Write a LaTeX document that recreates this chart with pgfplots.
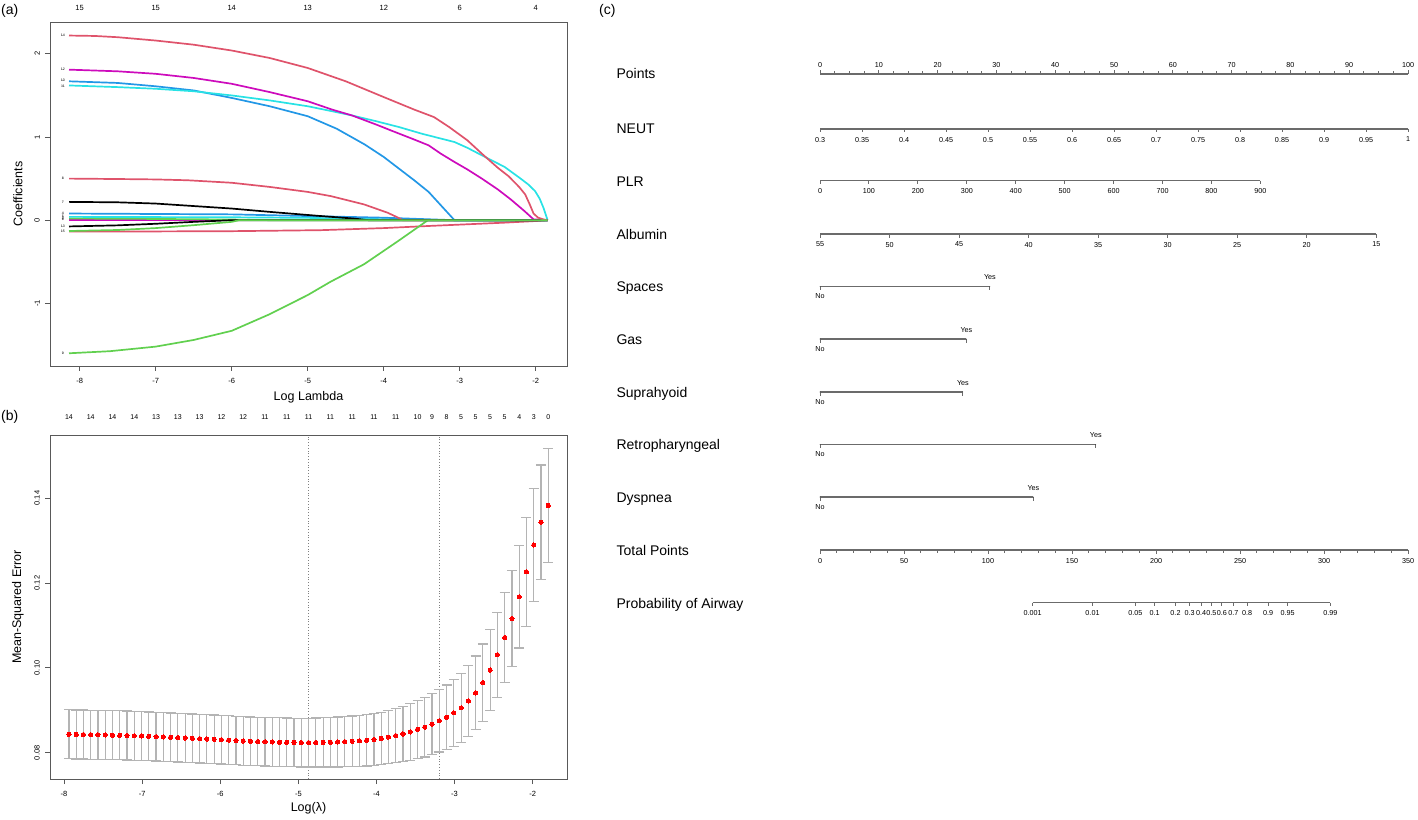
\documentclass[border=0pt]{standalone}
\usepackage{fontspec}
\setmainfont{Liberation Sans}
\usepackage{pgfplots}
\pgfplotsset{compat=1.18}
\usepackage{pgfplotstable}

\definecolor{Rred}{HTML}{DF536B}
\definecolor{Rgreen}{HTML}{61D04F}
\definecolor{Rblue}{HTML}{2297E6}
\definecolor{Rcyan}{HTML}{28E2E5}
\definecolor{Rmag}{HTML}{CD0BBC}
\definecolor{Rgrey}{HTML}{B4B4B4}
\definecolor{axgray}{gray}{0.35}

\newcommand{\fs}[1]{\fontsize{#1}{#1}\selectfont}

\pgfdeclareplotmark{tdown}{\pgfpathmoveto{\pgfqpoint{0pt}{0pt}}\pgfpathlineto{\pgfqpoint{0pt}{-\pgfplotmarksize}}\pgfusepathqstroke}
\pgfdeclareplotmark{tup}{\pgfpathmoveto{\pgfqpoint{0pt}{0pt}}\pgfpathlineto{\pgfqpoint{0pt}{\pgfplotmarksize}}\pgfusepathqstroke}
\pgfdeclareplotmark{cap}{\pgfpathmoveto{\pgfqpoint{-\pgfplotmarksize}{0pt}}\pgfpathlineto{\pgfqpoint{\pgfplotmarksize}{0pt}}\pgfusepathqstroke}

\pgfplotsset{
  textonly/.style={only marks, mark=*, mark size=0.01pt, mark options={draw=none, fill=none}, nodes near coords, point meta=explicit symbolic},
  nomo/.style={draw=black!58, line width=1.3pt, mark options={solid, draw=black!58, line width=1pt}, mark size=3.5pt},
  coef/.style={line width=1.7pt},
}

% cross-validated MSE (mean) and its standard error, one row per lambda
\pgfplotstableread{
L mse lo hi
-1.800 0.13827 0.12480 0.15174
-1.893 0.13431 0.12080 0.14782
-1.986 0.12895 0.11556 0.14234
-2.079 0.12264 0.10984 0.13544
-2.172 0.11673 0.10467 0.12879
-2.265 0.11161 0.10030 0.12292
-2.358 0.10715 0.09655 0.11775
-2.451 0.10310 0.09308 0.11312
-2.544 0.09948 0.08996 0.10900
-2.637 0.09653 0.08745 0.10561
-2.730 0.09410 0.08540 0.10280
-2.823 0.09219 0.08385 0.10053
-2.916 0.09058 0.08251 0.09865
-3.009 0.08940 0.08156 0.09724
-3.102 0.08839 0.08080 0.09598
-3.195 0.08753 0.08016 0.09490
-3.288 0.08674 0.07953 0.09395
-3.381 0.08604 0.07899 0.09309
-3.474 0.08549 0.07859 0.09239
-3.567 0.08491 0.07821 0.09161
-3.660 0.08443 0.07789 0.09097
-3.753 0.08404 0.07765 0.09043
-3.846 0.08369 0.07742 0.08996
-3.939 0.08337 0.07718 0.08956
-4.032 0.08312 0.07700 0.08924
-4.125 0.08295 0.07689 0.08901
-4.218 0.08281 0.07680 0.08882
-4.311 0.08270 0.07674 0.08866
-4.404 0.08261 0.07670 0.08852
-4.497 0.08254 0.07667 0.08841
-4.590 0.08249 0.07666 0.08832
-4.683 0.08245 0.07665 0.08825
-4.776 0.08242 0.07665 0.08819
-4.869 0.08240 0.07665 0.08815
-4.962 0.08241 0.07667 0.08815
-5.055 0.08243 0.07670 0.08816
-5.148 0.08246 0.07673 0.08819
-5.241 0.08250 0.07678 0.08822
-5.334 0.08254 0.07682 0.08826
-5.427 0.08259 0.07687 0.08831
-5.520 0.08264 0.07692 0.08836
-5.613 0.08270 0.07698 0.08842
-5.706 0.08277 0.07705 0.08849
-5.799 0.08287 0.07715 0.08859
-5.892 0.08298 0.07726 0.08870
-5.985 0.08308 0.07736 0.08880
-6.078 0.08317 0.07744 0.08890
-6.171 0.08325 0.07752 0.08898
-6.264 0.08333 0.07760 0.08906
-6.357 0.08341 0.07767 0.08915
-6.450 0.08349 0.07775 0.08923
-6.543 0.08357 0.07783 0.08931
-6.636 0.08364 0.07789 0.08939
-6.729 0.08372 0.07797 0.08947
-6.822 0.08379 0.07804 0.08954
-6.915 0.08386 0.07810 0.08962
-7.008 0.08393 0.07817 0.08969
-7.101 0.08399 0.07823 0.08975
-7.194 0.08405 0.07828 0.08982
-7.287 0.08410 0.07833 0.08987
-7.380 0.08415 0.07838 0.08992
-7.473 0.08419 0.07841 0.08997
-7.566 0.08423 0.07845 0.09001
-7.659 0.08427 0.07849 0.09005
-7.752 0.08430 0.07852 0.09008
-7.845 0.08432 0.07854 0.09010
-7.938 0.08434 0.07856 0.09012
}\cvdata

\begin{document}
\begin{tikzpicture}
\path[use as bounding box] (0pt,0pt) rectangle (1418pt,819pt);
\node[anchor=west, font=\fs{14}, inner sep=0pt] at (1pt,808pt) {(a)};
\node[anchor=west, font=\fs{14}, inner sep=0pt] at (1pt,402pt) {(b)};
\node[anchor=west, font=\fs{14}, inner sep=0pt] at (599pt,808pt) {(c)};

% ---------------- panel (a)
\begin{axis}[at={(50pt,453pt)}, anchor=south west, width=517pt, height=344pt, scale only axis,
  xmin=-8.39, xmax=-1.59, ymin=-1.753, ymax=2.383, clip=false,
  axis line style={axgray, line width=0.9pt},
  tick align=outside, major tick length=5pt, tick style={axgray, line width=0.8pt},
  xtick={-8,-7,-6,-5,-4,-3,-2}, xticklabels={-8,-7,-6,-5,-4,-3,-2},
  ytick={-1,0,1,2}, yticklabels={-1,0,1,2},
  xtick pos=lower, ytick pos=left,
  xticklabel style={font=\fs{7.5}, inner sep=0pt, anchor=north}, xticklabel shift=7pt,
  yticklabel style={font=\fs{7.5}, inner sep=0pt, rotate=90, anchor=south}, yticklabel shift=5pt,
  xlabel={Log Lambda}, ylabel={Coefficients},
  every axis x label/.style={at={(axis description cs:0.5,-0.090)}, anchor=center, font=\fs{12.5}},
  every axis y label/.style={at={(axis description cs:-0.062,0.5)}, rotate=90, anchor=center, font=\fs{12.5}},
]
\addplot[coef, Rmag] coordinates {(-8.14,0.0) (-1.845,0)};
\addplot[coef, Rgreen] coordinates {(-8.14,0.02) (-7,0.015) (-6,0.008) (-5.5,0) (-1.845,0)};
\addplot[coef, Rcyan] coordinates {(-8.14,0.04) (-6,0.035) (-5,0.028) (-4,0.012) (-3.5,0) (-1.845,0)};
\addplot[coef, Rblue] coordinates {(-8.14,0.08) (-6,0.07) (-5,0.05) (-4,0.03) (-3.07,0) (-1.845,0)};
\addplot[coef, Rred] coordinates {(-8.14,-0.135) (-7,-0.135) (-6,-0.132) (-4.83,-0.12) (-4,-0.095) (-3.42,-0.07) (-2.42,-0.03) (-2.0,-0.01) (-1.845,0)};
\addplot[coef, black] coordinates {(-8.14,0.22) (-7.5,0.215) (-7.0,0.20) (-6.5,0.17) (-6.0,0.14) (-5.5,0.10) (-4.83,0.05) (-4.4,0.02) (-4.2,0) (-1.845,0)};
\addplot[coef, Rred] coordinates {(-8.14,0.50) (-7.5,0.495) (-7.0,0.49) (-6.58,0.48) (-6.0,0.45) (-5.5,0.40) (-5.0,0.34) (-4.70,0.29) (-4.26,0.19) (-3.95,0.09) (-3.81,0.03) (-3.75,0) (-1.845,0)};
\addplot[coef, Rgreen] coordinates {(-8.14,-1.60) (-7.6,-1.575) (-7.0,-1.52) (-6.5,-1.44) (-6.0,-1.33) (-5.5,-1.13) (-5.0,-0.90) (-4.7,-0.74) (-4.26,-0.53) (-3.81,-0.25) (-3.42,0.0) (-1.845,0)};
\addplot[coef, Rblue] coordinates {(-8.14,1.67) (-7.5,1.65) (-7.0,1.61) (-6.5,1.56) (-6.0,1.47) (-5.5,1.37) (-5.0,1.25) (-4.62,1.10) (-4.25,0.91) (-4.0,0.76) (-3.80,0.62) (-3.6,0.48) (-3.41,0.34) (-3.25,0.18) (-3.14,0.07) (-3.07,0.0) (-1.845,0)};
\addplot[coef, Rcyan] coordinates {(-8.14,1.62) (-7.5,1.60) (-7.0,1.58) (-6.5,1.55) (-6.0,1.50) (-5.5,1.44) (-5.0,1.37) (-4.68,1.31) (-4.42,1.26) (-4.1,1.19) (-3.8,1.12) (-3.5,1.04) (-3.2,0.97) (-3.07,0.94) (-2.9,0.87) (-2.71,0.78) (-2.41,0.64) (-2.2,0.50) (-2.1,0.43) (-2.01,0.35) (-1.95,0.26) (-1.9,0.15) (-1.845,0)};
\addplot[coef, Rmag] coordinates {(-8.14,1.81) (-7.5,1.79) (-7.0,1.76) (-6.5,1.71) (-6.0,1.64) (-5.5,1.54) (-5.0,1.43) (-4.68,1.33) (-4.42,1.26) (-4.1,1.15) (-3.88,1.07) (-3.6,0.97) (-3.41,0.90) (-3.25,0.80) (-3.07,0.70) (-2.9,0.61) (-2.71,0.50) (-2.5,0.37) (-2.33,0.25) (-2.15,0.11) (-2.03,0.01) (-1.845,0)};
\addplot[coef, black] coordinates {(-8.14,-0.075) (-7.5,-0.062) (-7.0,-0.043) (-6.5,-0.02) (-6.0,0) (-1.845,0)};
\addplot[coef, Rred] coordinates {(-8.14,2.22) (-7.8,2.215) (-7.5,2.20) (-7.0,2.16) (-6.5,2.11) (-6.0,2.04) (-5.5,1.95) (-5.0,1.83) (-4.5,1.67) (-4.0,1.48) (-3.6,1.33) (-3.34,1.24) (-3.14,1.12) (-2.9,0.96) (-2.71,0.80) (-2.5,0.63) (-2.36,0.53) (-2.22,0.40) (-2.14,0.31) (-2.08,0.19) (-2.03,0.08) (-1.97,0.03) (-1.90,0.01) (-1.845,0)};
\addplot[coef, Rgreen] coordinates {(-8.14,-0.13) (-7.5,-0.118) (-7.0,-0.095) (-6.5,-0.06) (-6.0,-0.02) (-5.9,0) (-1.845,0)};
% curve labels
\addplot[textonly, nodes near coords style={anchor=center, inner sep=0pt, font=\fs{3.5}}] table[x=L, y=c, meta=lab] {
L c lab
-8.22 2.22 14
-8.22 1.81 12
-8.22 1.68 10
-8.22 1.615 11
-8.22 0.50 8
-8.22 0.22 7
-8.22 0.085 4
-8.22 0.045 5
-8.22 0.025 3
-8.22 0.005 6
-8.22 -0.075 13
-8.22 -0.13 15
-8.22 -1.60 9
};
\end{axis}
% top labels (a)
\begin{axis}[at={(50pt,453pt)}, anchor=south west, width=517pt, height=344pt, scale only axis,
  xmin=-8.39, xmax=-1.59, ymin=0, ymax=1, hide y axis, axis line style={draw=none},
  xtick={-8,-7,-6,-5,-4,-3,-2}, xticklabels={15,15,14,13,12,6,4},
  xticklabel pos=upper, xtick style={draw=none}, major tick length=0pt,
  xticklabel style={font=\fs{7.5}, inner sep=0pt, anchor=south}, xticklabel shift=11pt]
\addplot[draw=none] coordinates {(-5,0.5)};
\end{axis}

% ---------------- panel (b)
\begin{axis}[at={(50pt,40pt)}, anchor=south west, width=517pt, height=344pt, scale only axis,
  xmin=-8.18, xmax=-1.56, ymin=0.07382, ymax=0.15487, clip=false,
  axis line style={axgray, line width=0.9pt},
  tick align=outside, major tick length=5pt, tick style={axgray, line width=0.8pt},
  xtick={-8,-7,-6,-5,-4,-3,-2}, xticklabels={-8,-7,-6,-5,-4,-3,-2},
  ytick={0.08,0.10,0.12,0.14}, yticklabels={0.08,0.10,0.12,0.14},
  xtick pos=lower, ytick pos=left,
  xticklabel style={font=\fs{7.5}, inner sep=0pt, anchor=north}, xticklabel shift=7pt,
  yticklabel style={font=\fs{7.5}, inner sep=0pt, rotate=90, anchor=south}, yticklabel shift=5pt,
  xlabel={Log(λ)}, ylabel={Mean-Squared Error},
  every axis x label/.style={at={(axis description cs:0.5,-0.086)}, anchor=center, font=\fs{12.5}},
  every axis y label/.style={at={(axis description cs:-0.062,0.5)}, rotate=90, anchor=center, font=\fs{12.5}},
]
\addplot[black!50, dotted, line width=0.8pt] coordinates {(-4.869,0.07382) (-4.869,0.15487)};
\addplot[black!50, dotted, line width=0.8pt] coordinates {(-3.195,0.07382) (-3.195,0.15487)};
% error bars: vertical segment from lo to hi, caps at both ends
\addplot[Rgrey, line width=1.2pt, ycomb, mark=none, draw=none,
  error bars/.cd, y dir=both, y explicit, error mark=none,
  error bar style={draw=Rgrey, line width=1.2pt}] table[x=L, y=mse, y error expr={\thisrow{hi}-\thisrow{mse}}] {\cvdata};
\addplot[only marks, mark=cap, mark size=5pt, mark options={draw=Rgrey, line width=1.2pt}] table[x=L, y=hi] {\cvdata};
\addplot[only marks, mark=cap, mark size=5pt, mark options={draw=Rgrey, line width=1.2pt}] table[x=L, y=lo] {\cvdata};
\addplot[only marks, mark=*, mark size=2.1pt, mark options={draw=red, fill=red, line width=0pt}] table[x=L, y=mse] {\cvdata};
\end{axis}
% top labels (b)
\begin{axis}[at={(50pt,40pt)}, anchor=south west, width=517pt, height=344pt, scale only axis,
  xmin=-8.18, xmax=-1.56, ymin=0, ymax=1, hide y axis, axis line style={draw=none},
  xtick={-7.938,-7.659,-7.380,-7.101,-6.822,-6.543,-6.264,-5.985,-5.706,-5.427,-5.148,-4.869,-4.590,-4.311,-4.032,-3.753,-3.474,-3.288,-3.102,-2.916,-2.730,-2.544,-2.358,-2.172,-1.986,-1.800},
  xticklabels={14,14,14,14,13,13,13,12,12,11,11,11,11,11,11,11,10,9,8,5,5,5,5,4,3,0},
  xticklabel pos=upper, xtick style={draw=none}, major tick length=0pt,
  xticklabel style={font=\fs{7}, inner sep=0pt, anchor=south}, xticklabel shift=15pt]
\addplot[draw=none] coordinates {(-5,0.5)};
\end{axis}

% ---------------- panel (c) nomogram
\begin{axis}[at={(820pt,0pt)}, anchor=south west, width=588pt, height=819pt, scale only axis,
  xmin=0, xmax=100, ymin=0, ymax=819, y dir=reverse, hide axis, clip=false,
  every node near coord/.append style={inner sep=0pt, font=\fs{7.2}},
]
% row labels
\node[anchor=base west, font=\fs{14}] at (axis cs:-35.2,79) {Points};
\node[anchor=base west, font=\fs{14}] at (axis cs:-35.2,134) {NEUT};
\node[anchor=base west, font=\fs{14}] at (axis cs:-35.2,186) {PLR};
\node[anchor=base west, font=\fs{14}] at (axis cs:-35.2,239) {Albumin};
\node[anchor=base west, font=\fs{14}] at (axis cs:-35.2,291.5) {Spaces};
\node[anchor=base west, font=\fs{14}] at (axis cs:-35.2,344) {Gas};
\node[anchor=base west, font=\fs{14}] at (axis cs:-35.2,397) {Suprahyoid};
\node[anchor=base west, font=\fs{14}] at (axis cs:-35.2,449.5) {Retropharyngeal};
\node[anchor=base west, font=\fs{14}] at (axis cs:-35.2,502) {Dyspnea};
\node[anchor=base west, font=\fs{14}] at (axis cs:-35.2,555) {Total Points};
\node[anchor=base west, font=\fs{14}] at (axis cs:-35.2,608) {Probability of Airway};
% Points
\addplot[nomo, mark=tup, mark size=3pt] table[x=v, y expr=74] {
v
0
2.5
5
7.5
10
12.5
15
17.5
20
22.5
25
27.5
30
32.5
35
37.5
40
42.5
45
47.5
50
52.5
55
57.5
60
62.5
65
67.5
70
72.5
75
77.5
80
82.5
85
87.5
90
92.5
95
97.5
100
};
\addplot[nomo, only marks, mark=tup, mark size=3.5pt, nodes near coords, point meta=explicit symbolic, nodes near coords style={anchor=south, yshift=5.8pt}] table[x=v, y expr=74, meta=v] {
v
0
10
20
30
40
50
60
70
80
90
100
};
% NEUT
\addplot[nomo, mark=tdown, nodes near coords, point meta=explicit symbolic, nodes near coords style={anchor=north, yshift=-7.5pt}] table[x expr={(\thisrow{v}-0.3)/0.7*100}, y expr=129, meta=v] {
v
0.3
0.35
0.4
0.45
0.5
0.55
0.6
0.65
0.7
0.75
0.8
0.85
0.9
0.95
1
};
% PLR
\addplot[nomo, mark=tdown, nodes near coords, point meta=explicit symbolic, nodes near coords style={anchor=north, yshift=-7.5pt}] table[x expr={\thisrow{v}*74.9/900}, y expr=180.7, meta=v] {
v
0
100
200
300
400
500
600
700
800
900
};
% Albumin
\addplot[nomo, mark=tdown, nodes near coords, point meta=explicit symbolic, nodes near coords style={anchor=north, yshift=-7.5pt}] table[x expr={(55-\thisrow{v})*94.6/40}, y expr=234, meta=v] {
v
55
50
45
40
35
30
25
20
15
};
% binary rows: Spaces, Gas, Suprahyoid, Retropharyngeal, Dyspnea
\addplot[nomo, mark=tdown] coordinates {(0,286.7) (28.9,286.7)};
\addplot[nomo, mark=tdown] coordinates {(0,339) (24.9,339)};
\addplot[nomo, mark=tdown] coordinates {(0,392) (24.3,392)};
\addplot[nomo, mark=tdown] coordinates {(0,444.7) (46.9,444.7)};
\addplot[nomo, mark=tdown] coordinates {(0,497) (36.3,497)};
\addplot[textonly, nodes near coords style={anchor=south, yshift=6.7pt}] table[x=x, y=y, meta=lab] {
x y lab
28.9 286.7 Yes
24.9 339 Yes
24.3 392 Yes
46.9 444.7 Yes
36.3 497 Yes
};
\addplot[textonly, nodes near coords style={anchor=north, yshift=-6.9pt}] table[x=x, y=y, meta=lab] {
x y lab
0 286.7 No
0 339 No
0 392 No
0 444.7 No
0 497 No
};
% Total points
\addplot[nomo, mark=tdown, mark size=3pt] table[x expr={\thisrow{v}/3.5}, y expr=550] {
v
0
10
20
30
40
50
60
70
80
90
100
110
120
130
140
150
160
170
180
190
200
210
220
230
240
250
260
270
280
290
300
310
320
330
340
350
};
\addplot[nomo, only marks, mark=tdown, mark size=3.5pt, nodes near coords, point meta=explicit symbolic, nodes near coords style={anchor=north, yshift=-7.5pt}] table[x expr={\thisrow{v}/3.5}, y expr=550, meta=v] {
v
0
50
100
150
200
250
300
350
};
% Probability
\addplot[nomo, mark=tdown, nodes near coords, point meta=explicit symbolic, nodes near coords style={anchor=north, yshift=-7.5pt}] table[x expr={\thisrow{t}/3.5}, y expr=602.7, meta=lab] {
t lab
126.6 0.001
162.2 0.01
187.7 0.05
199.2 0.1
211.6 0.2
220.0 0.3
226.8 0.4
233.0 0.5
239.2 0.6
246.0 0.7
254.3 0.8
266.8 0.9
278.3 0.95
303.8 0.99
};
\end{axis}
\end{tikzpicture}
\end{document}
